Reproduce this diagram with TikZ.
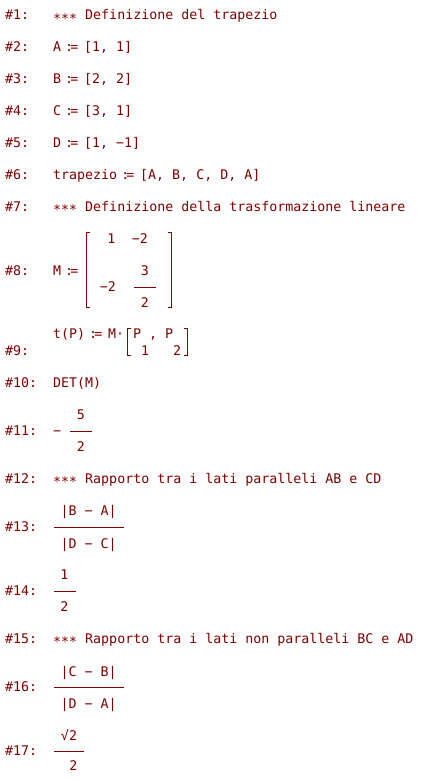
\documentclass[tikz,border=0pt]{standalone}
\usepackage{fontspec}
\setmonofont{DejaVu Sans Mono}
\usepackage{graphicx}

\definecolor{derivered}{RGB}{128,0,0}
\newcommand{\dstar}{\makebox[0.602em]{\raisebox{-0.27em}{*}}}
\newcommand{\dstars}{\dstar\dstar\dstar}
\newcommand{\dassign}{\makebox[0.602em][l]{\hspace{-0.1em}\makebox[0.2em]{:}\hspace{-0.02em}=}\hspace{-0.08em}}

\begin{document}
\begin{tikzpicture}[x=1pt,y=-1pt,
    every node/.style={inner sep=0pt,text=derivered,font=\ttfamily\fontsize{13.3}{16}\selectfont},
    line/.style={anchor=base west},
    cell/.style={anchor=base},
    bar/.style={draw=derivered,line width=1pt}]

    \useasboundingbox[fill=white] (0,0) rectangle (421,780);

    % constants
    \def\xl{5}
    \def\xe{53}

    % row numbers
    \foreach \n/\y in {1/19.5,2/51.7,3/83.3,4/115,5/147,6/179,7/211,8/275.7,9/355,
                       10/387.3,11/435,12/483.3,13/531.7,14/595,15/643.3,16/691.7,17/755}
        \node [line] (n\n) at (\xl,\y) {\#\n:};

    % definitions
    \node [line] (e1) at (\xe,19.5) {\dstars{} Definizione del trapezio};
    \node [line] (e2) at (\xe,51.7) {A \dassign{} [1, 1]};
    \node [line] (e3) at (\xe,83.3) {B \dassign{} [2, 2]};
    \node [line] (e4) at (\xe,115) {C \dassign{} [3, 1]};
    \node [line] (e5) at (\xe,147) {D \dassign{} [1, −1]};
    \node [line] (e6) at (\xe,179) {trapezio \dassign{} [A, B, C, D, A]};
    \node [line] (e7) at (\xe,211) {\dstars{} Definizione della trasformazione lineare};

    % matrix M
    \node [line] (e8) at (\xe,275.7) {M \dassign};
    \draw [bar] (90,232) -- (86.5,232) -- (86.5,307) -- (90,307);
    \draw [bar] (167.5,232) -- (171,232) -- (171,307) -- (167.5,307);
    \node [cell] (ma) at (111.5,243) {1};
    \node [cell] (mb) at (140,243) {−2};
    \node [cell] (mc) at (108,291) {−2};
    \node [cell] (mdn) at (145,275) {3};
    \draw [bar] (134,287.3) -- (156,287.3);
    \node [cell] (mdd) at (145,307) {2};

    % t(P)
    \node [line] (e9) at (\xe,338) {t(P) \dassign{} M·};
    \draw [bar] (131,328.3) -- (127,328.3) -- (127,355.7) -- (131,355.7);
    \draw [bar] (183.5,328.3) -- (187.5,328.3) -- (187.5,355.7) -- (183.5,355.7);
    \node [line] (pa) at (133,338) {P};
    \node [line] (pc) at (149,338) {,};
    \node [line] (pb) at (165,338) {P};
    \node [line] (sa) at (141,355) {1};
    \node [line] (sb) at (173,355) {2};

    \node [line] (e10) at (\xe,387.3) {DET(M)};

    % -5/2
    \node [line] (e11) at (\xe,435) {−};
    \node [cell] (fa) at (81,419) {5};
    \draw [bar] (70,431.7) -- (92,431.7);
    \node [cell] (fb) at (81,451) {2};

    \node [line] (e12) at (\xe,483.3) {\dstars{} Rapporto tra i lati paralleli AB e CD};

    % |B-A|/|D-C|
    \node [cell] (ga) at (88.7,515) {|B − A|};
    \draw [bar] (54,527.3) -- (124,527.3);
    \node [cell] (gb) at (88.7,548.3) {|D − C|};

    % 1/2
    \node [cell] (ha) at (64.5,579) {1};
    \draw [bar] (54,591) -- (76,591);
    \node [cell] (hb) at (64.5,611.7) {2};

    \node [line] (e15) at (\xe,643.3) {\dstars{} Rapporto tra i lati non paralleli BC e AD};

    % |C-B|/|D-A|
    \node [cell] (ka) at (88.7,676) {|C − B|};
    \draw [bar] (54,687.3) -- (124,687.3);
    \node [cell] (kb) at (88.7,708.3) {|D − A|};

    % sqrt2/2
    \node [cell] (qa) at (69,740) {√2};
    \draw [bar] (54,751) -- (84,751);
    \node [cell] (qb) at (73.5,770) {2};

\end{tikzpicture}
\end{document}
